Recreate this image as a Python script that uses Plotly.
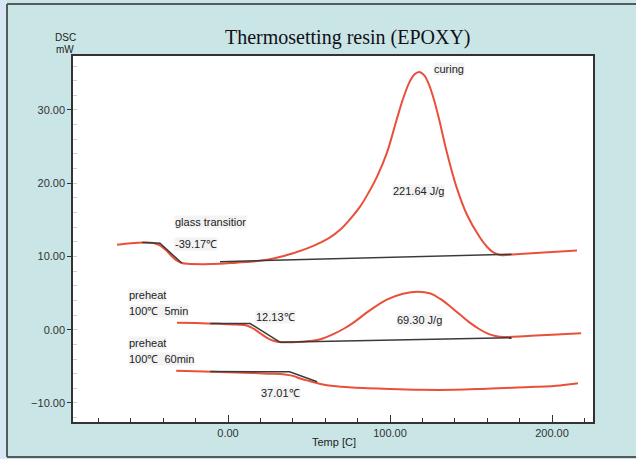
import plotly.graph_objects as go

# ---- data (Temp in °C, DSC in mW) ----
cure_T = [-68.5, -60, -52, -46, -42, -38, -35, -32, -29, -25, -15, -5, 5, 15, 25, 35, 45, 50, 57, 63, 69,
          75, 81.5, 87, 92, 98, 104, 108, 112, 115, 118, 121, 124, 127, 130, 135, 141, 147.5, 155.5, 160,
          163.5, 168, 180, 195, 215.4]
cure_V = [11.6, 11.8, 11.9, 11.85, 11.5, 10.8, 10.1, 9.5, 9.15, 9.0, 8.95, 9.0, 9.15, 9.3, 9.6, 10.1, 10.8,
          11.2, 11.9, 12.6, 13.6, 15.0, 16.8, 18.8, 20.9, 24.1, 28.6, 31.5, 33.8, 34.85, 35.2, 34.75, 33.5,
          31.5, 29.0, 24.3, 19.5, 15.7, 12.6, 11.3, 10.6, 10.2, 10.35, 10.55, 10.8]
cure_tg_T = [-53, -42, -28.6]
cure_tg_V = [11.9, 11.8, 9.1]
cure_base_T = [-5, 175]
cure_base_V = [9.28, 10.3]

p5_T = [-31.5, -20, -5, 5, 12, 16, 20, 24, 28, 33, 40, 50, 57, 65, 72, 77, 88, 98, 108, 117, 125, 131,
        137, 143, 149, 155, 160, 165, 170, 185, 200, 218]
p5_V = [0.96, 0.9, 0.8, 0.7, 0.55, 0.1, -0.5, -1.1, -1.5, -1.7, -1.7, -1.55, -1.3, -0.6, 0.2, 0.9, 2.7,
        4.1, 4.9, 5.2, 4.95, 4.2, 3.2, 2.1, 1.0, 0.1, -0.5, -0.85, -1.0, -0.85, -0.7, -0.5]
p5_tg_T = [-11, 13.6, 32]
p5_tg_V = [0.85, 0.85, -1.7]
p5_base_T = [32, 175]
p5_base_V = [-1.7, -1.1]

p60_T = [-32, -15, 0, 15, 25, 35, 40, 45, 50, 57, 65, 77, 100, 118, 140, 160, 190, 205, 216]
p60_V = [-5.6, -5.7, -5.8, -5.9, -6.0, -6.1, -6.3, -6.7, -7.0, -7.4, -7.7, -7.9, -8.1, -8.2, -8.2,
         -8.05, -7.8, -7.6, -7.3]
p60_tg_T = [-11, 38, 55]
p60_tg_V = [-5.7, -5.75, -7.1]

RED = "#e8503a"
GRAY = "#3a3a3a"

fig = go.Figure()
for T, V in [(cure_T, cure_V), (p5_T, p5_V), (p60_T, p60_V)]:
    fig.add_trace(go.Scatter(x=T, y=V, mode="lines", line=dict(color=RED, width=2, shape="spline", smoothing=1.0),
                             hoverinfo="skip"))
for T, V in [(cure_tg_T, cure_tg_V), (cure_base_T, cure_base_V), (p5_tg_T, p5_tg_V),
             (p5_base_T, p5_base_V), (p60_tg_T, p60_tg_V)]:
    fig.add_trace(go.Scatter(x=T, y=V, mode="lines", line=dict(color=GRAY, width=1.5), hoverinfo="skip"))

TXT = dict(family="Liberation Sans, Arial, sans-serif", size=11, color="#222")
BG = "#f3f3f3"
labels = [
    ("curing", 136.4, 35.6, "center"),
    ("221.64 J/g", 117.3, 18.95, "center"),
    ("glass transitior", -33.5, 14.7, "left"),
    ("-39.17℃", -33.5, 11.7, "left"),
    ("preheat", -61.7, 4.77, "left"),
    ("100℃  5min", -61.7, 2.6, "left"),
    ("12.13℃", 29.0, 1.77, "center"),
    ("69.30 J/g", 118.5, 1.36, "center"),
    ("preheat", -61.7, -1.8, "left"),
    ("100℃  60min", -61.7, -4.0, "left"),
    ("37.01℃", 32.1, -8.7, "center"),
]
for t, x, y, anc in labels:
    fig.add_annotation(x=x, y=y, text=t, showarrow=False, xanchor=anc, yanchor="middle",
                       font=TXT, bgcolor=BG, borderpad=0)

def px(x):
    return (x - 73) / 520

def py(y):
    return (422 - y) / 366

fig.add_annotation(x=px(348), y=py(37), xref="paper", yref="paper", text="Thermosetting resin (EPOXY)",
                   showarrow=False, xanchor="center", yanchor="middle",
                   font=dict(family="Liberation Serif, Times New Roman, serif", size=20, color="#101018"))
fig.add_annotation(x=px(65), y=py(38), xref="paper", yref="paper", text="DSC", showarrow=False,
                   xanchor="center", yanchor="middle", font=dict(family="Liberation Sans, Arial", size=10, color="#222"))
fig.add_annotation(x=px(65), y=py(49), xref="paper", yref="paper", text="mW", showarrow=False,
                   xanchor="center", yanchor="middle", font=dict(family="Liberation Sans, Arial", size=10, color="#222"))
fig.add_annotation(x=px(334), y=py(442), xref="paper", yref="paper", text="Temp [C]", showarrow=False,
                   xanchor="center", yanchor="middle", font=dict(family="Liberation Sans, Arial", size=11, color="#222"))

# outer frame
fig.add_shape(type="rect", xref="paper", yref="paper", x0=px(0), x1=px(7), y0=py(459), y1=py(0),
              fillcolor="#d6e6f2", line=dict(width=0), layer="below")
fig.add_shape(type="line", xref="paper", yref="paper", x0=px(7), x1=px(636), y0=py(4), y1=py(4),
              line=dict(color="#555b5b", width=2))
fig.add_shape(type="line", xref="paper", yref="paper", x0=px(7), x1=px(7), y0=py(4), y1=py(457),
              line=dict(color="#555b5b", width=2))
fig.add_shape(type="line", xref="paper", yref="paper", x0=px(7), x1=px(636), y0=py(457), y1=py(457),
              line=dict(color="#555b5b", width=2))

fig.update_layout(
    width=636, height=459,
    margin=dict(l=73, r=43, t=56, b=37),
    paper_bgcolor="#c9e5e5", plot_bgcolor="white",
    showlegend=False,
    xaxis=dict(range=[-95.7, 225.3], dtick=100, tick0=0, tickformat=".2f", ticks="inside", ticklen=7,
               tickcolor="#333", showgrid=False, zeroline=False, showline=True, linecolor="#333", linewidth=1.5,
               mirror=True, tickfont=dict(family="Liberation Sans, Arial", size=11, color="#333"),
               minor=dict(dtick=20, ticks="inside", ticklen=4, tickcolor="#333", showgrid=False)),
    yaxis=dict(range=[-12.6, 37.37], dtick=10, tick0=0, tickformat=".2f", ticks="outside", ticklen=4,
               tickcolor="#333", showgrid=False, zeroline=False, showline=True, linecolor="#333", linewidth=1.5,
               mirror=True, tickfont=dict(family="Liberation Sans, Arial", size=11, color="#333"),
               minor=dict(dtick=2, ticks="inside", ticklen=4, tickcolor="#d0d0d0", showgrid=False)),
)

fig.write_html("out.html")
